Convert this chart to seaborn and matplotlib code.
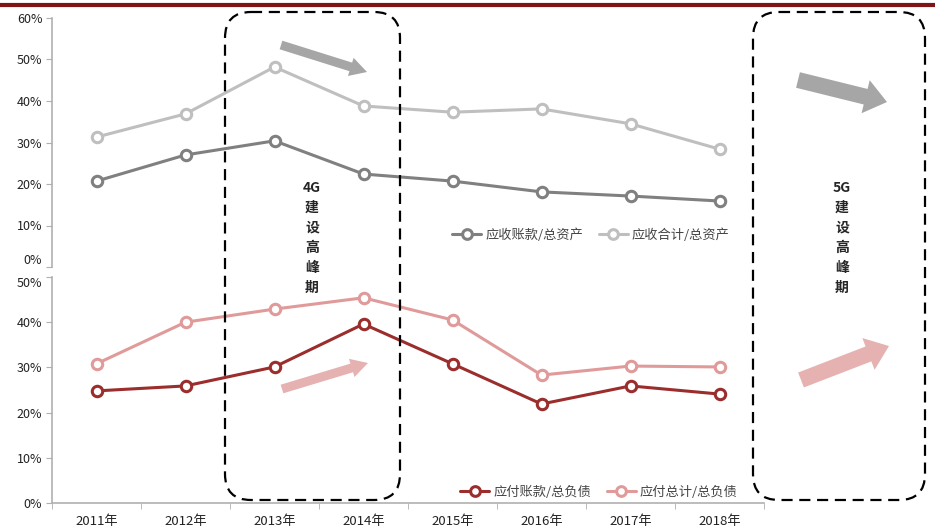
import numpy as np
import pandas as pd
import matplotlib
matplotlib.use("Agg")
import matplotlib.pyplot as plt
import seaborn as sns
from matplotlib.patches import FancyBboxPatch, FancyArrow
from matplotlib.lines import Line2D

# ==============================================================================
# DADOS
# ==============================================================================
anos = ['2011年', '2012年', '2013年', '2014年', '2015年', '2016年', '2017年', '2018年']

receber_contas = [20.7, 27.0, 30.4, 22.4, 20.7, 18.1, 17.1, 15.9]    # 应收账款/总资产
receber_total = [31.3, 36.9, 48.2, 38.8, 37.3, 38.1, 34.5, 28.4]     # 应收合计/总资产
pagar_contas = [24.8, 25.9, 30.1, 39.6, 30.8, 21.9, 25.9, 24.1]      # 应付账款/总负债
pagar_total = [30.8, 40.0, 42.9, 45.4, 40.5, 28.3, 30.3, 30.1]       # 应付总计/总负债

nomes_top = ['应收账款/总资产', '应收合计/总资产']
nomes_bot = ['应付账款/总负债', '应付总计/总负债']
cores_top = ['#808080', '#bfbfbf']
cores_bot = ['#9b2d2d', '#e09a9a']

yticks_top = [0, 10, 20, 30, 40, 50, 60]
yticks_bot = [0, 10, 20, 30, 40, 50]

# ==============================================================================
# FIGURA
# ==============================================================================
sns.set_style('white')
plt.rcParams['font.family'] = ['Noto Sans CJK SC', 'DejaVu Sans']

W, H = 935, 532
fig = plt.figure(figsize=(W / 100, H / 100), dpi=100)

x_left, x_right = 52, 764
ax_top = fig.add_axes([x_left / W, (H - 267) / H, (x_right - x_left) / W, 249 / H])
ax_bot = fig.add_axes([x_left / W, (H - 503) / H, (x_right - x_left) / W, 226 / H])

df_top = pd.DataFrame({'x': list(range(len(anos))) * 2,
                       'v': receber_contas + receber_total,
                       's': [nomes_top[0]] * len(anos) + [nomes_top[1]] * len(anos)})
df_bot = pd.DataFrame({'x': list(range(len(anos))) * 2,
                       'v': pagar_contas + pagar_total,
                       's': [nomes_bot[0]] * len(anos) + [nomes_bot[1]] * len(anos)})


def desenha(ax, df, nomes, cores, yticks):
    for nome, cor in zip(nomes, cores):
        sub = df[df['s'] == nome]
        sns.lineplot(data=sub, x='x', y='v', ax=ax, color=cor, linewidth=2.2,
                     marker='o', markersize=7.5, markerfacecolor='white',
                     markeredgecolor=cor, markeredgewidth=2.2, legend=False)
    ax.set_xlim(-0.5, len(anos) - 0.5)
    ax.set_ylim(yticks[0], yticks[-1])
    ax.set_yticks(yticks)
    ax.set_yticklabels([f'{t}%' for t in yticks], fontsize=9, color='#222222')
    ax.set_xlabel('')
    ax.set_ylabel('')
    for lado in ['top', 'right']:
        ax.spines[lado].set_visible(False)
    ax.spines['left'].set_color('#b0b0b0')
    ax.spines['left'].set_linewidth(1.2)
    ax.tick_params(axis='y', left=True, length=4, color='#b0b0b0', pad=3)
    ax.patch.set_alpha(0)


desenha(ax_top, df_top, nomes_top, cores_top, yticks_top)
desenha(ax_bot, df_bot, nomes_bot, cores_bot, yticks_bot)

# afasta um pouco o "0%" superior do "50%" inferior
ax_top.get_yticklabels()[0].set_va('bottom')
ax_bot.get_yticklabels()[-1].set_va('top')

ax_top.spines['bottom'].set_visible(False)
ax_top.set_xticks([])

ax_bot.spines['bottom'].set_color('#b0b0b0')
ax_bot.spines['bottom'].set_linewidth(1.2)
ax_bot.set_xticks(range(len(anos)))
ax_bot.set_xticklabels(anos, fontsize=9.5, color='#222222')
ax_bot.set_xticks(np.arange(-0.5, len(anos), 1), minor=True)
ax_bot.tick_params(axis='x', which='major', length=0, pad=9)
ax_bot.tick_params(axis='x', which='minor', bottom=True, length=4, color='#b0b0b0')

# legendas
def alcas(cores):
    return [Line2D([0], [0], color=c, linewidth=2.2, marker='o', markersize=7,
                   markerfacecolor='white', markeredgecolor=c, markeredgewidth=2.2)
            for c in cores]

ax_top.legend(alcas(cores_top), nomes_top, ncol=2, frameon=False, fontsize=9.5,
              loc='center', bbox_to_anchor=(591 / W, (H - 235) / H),
              bbox_transform=fig.transFigure, handlelength=2.2, columnspacing=1.2,
              handletextpad=0.3, labelcolor='#444444')
ax_bot.legend(alcas(cores_bot), nomes_bot, ncol=2, frameon=False, fontsize=9.5,
              loc='center', bbox_to_anchor=(599 / W, (H - 492) / H),
              bbox_transform=fig.transFigure, handlelength=2.2, columnspacing=1.2,
              handletextpad=0.3, labelcolor='#444444')

# ==============================================================================
# ANOTAÇÕES (camada em coordenadas de pixel)
# ==============================================================================
ov = fig.add_axes([0, 0, 1, 1], zorder=5)
ov.set_xlim(0, W)
ov.set_ylim(H, 0)
ov.axis('off')
ov.patch.set_alpha(0)

# linha do cabeçalho
ov.plot([0, W], [5, 5], color='#7f1416', linewidth=3, solid_capstyle='butt')

# caixas tracejadas
for x0, x1 in [(225, 400), (753, 925)]:
    caixa = FancyBboxPatch((x0 + 26, 38), (x1 - x0) - 52, 436,
                           boxstyle='round,pad=26', fill=False,
                           edgecolor='black', linewidth=1.6, linestyle=(0, (5, 3)))
    ov.add_patch(caixa)

ov.text(312, 238, '4G\n建\n设\n高\n峰\n期', ha='center', va='center',
        fontsize=10, fontweight='bold', linespacing=1.55)
ov.text(842, 238, '5G\n建\n设\n高\n峰\n期', ha='center', va='center',
        fontsize=10, fontweight='bold', linespacing=1.55)

# setas
setas = [
    (281, 45, 86, 27, 9, 19, 17, '#a6a6a6'),
    (798, 80, 89, 22, 16, 34, 22, '#a6a6a6'),
    (282, 389, 86, -26, 9, 19, 17, '#e6b1b1'),
    (801, 380, 88, -34, 16, 34, 22, '#e6b1b1'),
]
for x, y, dx, dy, w, hw, hl, cor in setas:
    ov.add_patch(FancyArrow(x, y, dx, dy, width=w, head_width=hw, head_length=hl,
                            length_includes_head=True, color=cor, linewidth=0))

fig.savefig('out.png', dpi=100)
